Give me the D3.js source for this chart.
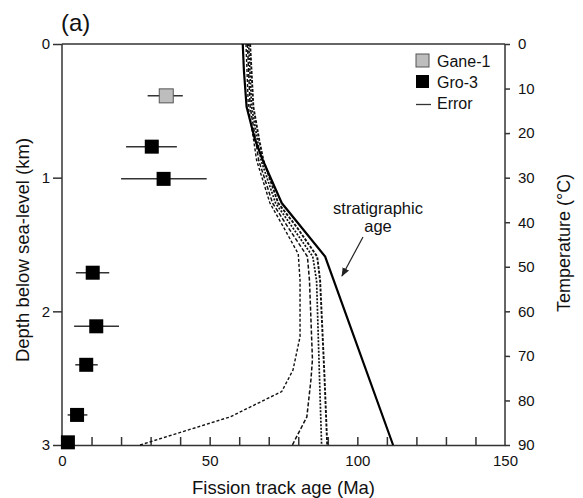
<!DOCTYPE html>
<html><head><meta charset="utf-8">
<script src="https://cdn.jsdelivr.net/npm/d3@7"></script>
<style>body{margin:0;background:#fff;} text{font-family:"Liberation Sans",Arial,sans-serif;}</style>
</head><body><svg id="c" width="583" height="498"></svg>
<script>
// ---- data ----
const xTicks = [0, 50, 100, 150];
const xMinorTicks = [10, 20, 30, 40, 50, 60, 70, 80, 90, 100, 110, 120, 130, 140];
const depthTicks = [0, 1, 2, 3];
const tempTicks = [0, 10, 20, 30, 40, 50, 60, 70, 80, 90];

const ganeAge = [35.3];
const ganeDepth = [0.388];
const ganeErrLo = [29.0];
const ganeErrHi = [40.9];

const groAge = [30.4, 34.4, 10.4, 11.6, 8.2, 5.1, 2.0];
const groDepth = [0.768, 1.009, 1.711, 2.112, 2.40, 2.775, 2.98];
const groErrLo = [21.7, 20.0, 4.7, 4.1, 4.5, 1.9, 2.0];
const groErrHi = [38.9, 49.0, 16.0, 19.3, 12.1, 8.6, 2.0];

const stratDepth = [0, 0.2, 0.47, 0.72, 0.87, 1.19, 1.59, 3.0];
const stratAge = [61.2, 61.6, 62.5, 65.4, 68.0, 74.4, 89.1, 112.1];

const modelADepth = [0, 0.47, 0.72, 0.87, 1.19, 1.37, 1.57, 1.77, 2.19, 2.44, 2.6, 2.79, 3.0];
const modelAAge = [62.3, 63.1, 64.9, 65.9, 70.4, 75.0, 80.0, 80.6, 80.6, 78.2, 74.4, 56.9, 26.4];
const modelBDepth = [0, 0.47, 0.72, 0.87, 1.19, 1.37, 1.59, 1.77, 2.36, 2.51, 2.79, 3.0];
const modelBAge = [62.8, 63.7, 65.6, 66.6, 71.3, 76.5, 83.1, 83.8, 84.8, 84.3, 82.9, 78.0];
const modelCDepth = [0, 0.47, 0.72, 0.87, 1.19, 1.37, 1.59, 1.77, 2.5, 3.0];
const modelCAge = [63.2, 64.2, 66.2, 67.4, 72.3, 78.0, 84.9, 86.2, 87.2, 87.9];
const modelDDepth = [0, 0.47, 0.72, 0.87, 1.19, 1.37, 1.59, 1.77, 2.5, 3.0];
const modelDAge = [63.7, 64.8, 66.8, 68.2, 73.2, 79.5, 86.4, 87.4, 88.9, 89.8];

// ---- layout ----
const L = 62, R = 505, T = 44, B = 445;
const svg = d3.select("#c");
const x = d3.scaleLinear().domain([0, 150]).range([L, R]);
const y = d3.scaleLinear().domain([0, 3]).range([T, B]);
const yT = d3.scaleLinear().domain([0, 90]).range([T, B]);
const axisCol = "#333";

function styleAxis(g, fs) {
  g.selectAll("path.domain").attr("stroke", axisCol).attr("stroke-width", 1.5);
  g.selectAll(".tick line").attr("stroke", axisCol).attr("stroke-width", 1.5);
  g.selectAll(".tick text").attr("fill", "#111").style("font-size", fs + "px")
    .style("font-family", "Liberation Sans, Arial, sans-serif");
}

// top frame line
svg.append("line").attr("x1", L).attr("x2", R).attr("y1", T).attr("y2", T)
  .attr("stroke", axisCol).attr("stroke-width", 1.5);

// bottom axis labels
const gx = svg.append("g").attr("transform", `translate(0,${B})`)
  .call(d3.axisBottom(x).tickValues(xTicks).tickSize(0).tickPadding(10).tickFormat(d3.format("d")));
styleAxis(gx, 15);
// bottom inner minor ticks
const gxm = svg.append("g").attr("transform", `translate(0,${B})`)
  .call(d3.axisTop(x).tickValues(xMinorTicks).tickSize(8).tickFormat(""));
styleAxis(gxm, 15);
gxm.select("path.domain").remove();

// left axis
const gy = svg.append("g").attr("transform", `translate(${L},0)`)
  .call(d3.axisLeft(y).tickValues(depthTicks).tickSize(9).tickPadding(3).tickFormat(d3.format("d")));
styleAxis(gy, 15);
gy.select("path.domain").attr("d", `M0,${T}V${B}`);

// right axis (temperature)
const gr = svg.append("g").attr("transform", `translate(${R},0)`)
  .call(d3.axisRight(yT).tickValues(tempTicks).tickSize(5).tickPadding(8).tickFormat(d3.format("d")));
styleAxis(gr, 15);
gr.select("path.domain").attr("d", `M0,${T}V${B}`);

// titles
svg.append("text").attr("x", (L + R) / 2).attr("y", 494).attr("text-anchor", "middle")
  .style("font-size", "18.5px").attr("fill", "#111").text("Fission track age (Ma)");
svg.append("text").attr("transform", `translate(29,250) rotate(-90)`).attr("text-anchor", "middle")
  .style("font-size", "18.5px").attr("fill", "#111").text("Depth below sea-level (km)");
svg.append("text").attr("transform", `translate(570,243) rotate(-90)`).attr("text-anchor", "middle")
  .style("font-size", "18px").attr("fill", "#111").text("Temperature (°C)");
svg.append("text").attr("x", 61).attr("y", 31).style("font-size", "24px").attr("fill", "#111").text("(a)");

// model curves
const models = [
  {d: modelADepth, a: modelAAge, dash: "3,2", w: 1.4},
  {d: modelBDepth, a: modelBAge, dash: "4,2", w: 1.5},
  {d: modelCDepth, a: modelCAge, dash: "2,1.5", w: 1.7},
  {d: modelDDepth, a: modelDAge, dash: "3,1.5", w: 1.9}
];
const line = d3.line().x(p => x(p[0])).y(p => y(p[1]));
models.forEach(m => {
  svg.append("path").attr("d", line(m.a.map((v, i) => [v, m.d[i]])))
    .attr("fill", "none").attr("stroke", "#111").attr("stroke-width", m.w)
    .attr("stroke-dasharray", m.dash);
});
svg.append("path").attr("d", line(stratAge.map((v, i) => [v, stratDepth[i]])))
  .attr("fill", "none").attr("stroke", "#000").attr("stroke-width", 2.2);

// annotation
svg.append("text").attr("x", 378).attr("y", 214).attr("text-anchor", "middle")
  .style("font-size", "16.5px").attr("fill", "#111").text("stratigraphic");
svg.append("text").attr("x", 378).attr("y", 232).attr("text-anchor", "middle")
  .style("font-size", "16.5px").attr("fill", "#111").text("age");
const defs = svg.append("defs");
defs.append("marker").attr("id", "ah").attr("viewBox", "0 0 10 10").attr("refX", 9).attr("refY", 5)
  .attr("markerWidth", 9).attr("markerHeight", 9).attr("markerUnits", "userSpaceOnUse").attr("orient", "auto")
  .append("path").attr("d", "M0,1L10,5L0,9z").attr("fill", "#222");
svg.append("line").attr("x1", 363).attr("y1", 237).attr("x2", 342).attr("y2", 276)
  .attr("stroke", "#222").attr("stroke-width", 1.2).attr("marker-end", "url(#ah)");

// error bars
function errBars(ages, depths, lo, hi) {
  svg.append("g").selectAll("line").data(ages).join("line")
    .attr("x1", (d, i) => x(lo[i])).attr("x2", (d, i) => x(hi[i]))
    .attr("y1", (d, i) => y(depths[i])).attr("y2", (d, i) => y(depths[i]))
    .attr("stroke", "#333").attr("stroke-width", 1.5);
}
errBars(ganeAge, ganeDepth, ganeErrLo, ganeErrHi);
errBars(groAge, groDepth, groErrLo, groErrHi);

const S = 14;
svg.append("g").selectAll("rect").data(ganeAge).join("rect")
  .attr("x", (d) => x(d) - S / 2).attr("y", (d, i) => y(ganeDepth[i]) - S / 2)
  .attr("width", S).attr("height", S).attr("fill", "#bdbdbd").attr("stroke", "#555").attr("stroke-width", 1);
svg.append("g").selectAll("rect").data(groAge).join("rect")
  .attr("x", (d) => x(d) - S / 2).attr("y", (d, i) => y(groDepth[i]) - S / 2)
  .attr("width", S).attr("height", S).attr("fill", "#000");

// legend
const lg = svg.append("g");
lg.append("rect").attr("x", 416).attr("y", 54).attr("width", 13).attr("height", 13)
  .attr("fill", "#bdbdbd").attr("stroke", "#555");
lg.append("text").attr("x", 437).attr("y", 66.5).style("font-size", "16px").attr("fill", "#111").text("Gane-1");
lg.append("rect").attr("x", 416).attr("y", 75).attr("width", 13).attr("height", 13).attr("fill", "#000");
lg.append("text").attr("x", 437).attr("y", 87.5).style("font-size", "16px").attr("fill", "#111").text("Gro-3");
lg.append("line").attr("x1", 416).attr("x2", 431).attr("y1", 104.5).attr("y2", 104.5)
  .attr("stroke", "#333").attr("stroke-width", 1.3);
lg.append("text").attr("x", 437).attr("y", 108.5).style("font-size", "16px").attr("fill", "#111").text("Error");
</script></body></html>
